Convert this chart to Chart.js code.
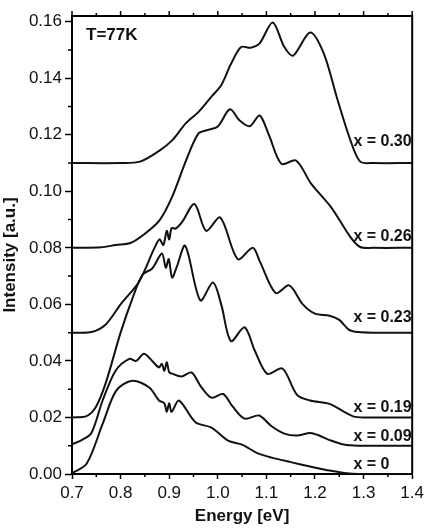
<!DOCTYPE html>
<html>
<head>
<meta charset="utf-8">
<script src="https://cdn.jsdelivr.net/npm/chart.js@4.4.1/dist/chart.umd.min.js"></script>
<style>
  html, body { margin: 0; padding: 0; background: #fff; }
</style>
</head>
<body>
<canvas id="pl" width="428" height="528"></canvas>
<script>
// photoluminescence spectra, T = 77K
const seriesNames = ["x = 0.30", "x = 0.26", "x = 0.23", "x = 0.19", "x = 0.09", "x = 0"];

const energy30 = [0.70, 0.80, 0.84, 0.88, 0.906, 0.934, 0.96, 0.987, 1.007, 1.027, 1.048, 1.068, 1.086, 1.113, 1.137, 1.155, 1.19, 1.218, 1.245, 1.273, 1.293, 1.32, 1.40];
const inten30  = [0.110, 0.110, 0.1105, 0.1144, 0.118, 0.124, 0.128, 0.1335, 0.1375, 0.145, 0.151, 0.1508, 0.1523, 0.1597, 0.151, 0.148, 0.1562, 0.1488, 0.1332, 0.118, 0.1105, 0.110, 0.110];

const energy26 = [0.70, 0.76, 0.79, 0.82, 0.85, 0.88, 0.906, 0.935, 0.96, 0.98, 1.00, 1.025, 1.045, 1.066, 1.086, 1.105, 1.131, 1.161, 1.192, 1.233, 1.273, 1.293, 1.32, 1.40];
const inten26  = [0.080, 0.0802, 0.081, 0.0817, 0.085, 0.0897, 0.098, 0.111, 0.1204, 0.1217, 0.1229, 0.129, 0.125, 0.123, 0.1268, 0.120, 0.1097, 0.1109, 0.1027, 0.0944, 0.0838, 0.0803, 0.080, 0.080];

const energy23 = [0.70, 0.74, 0.77, 0.80, 0.838, 0.869, 0.88, 0.888, 0.895, 0.90, 0.905, 0.913, 0.926, 0.952, 0.976, 1.005, 1.041, 1.072, 1.086, 1.119, 1.147, 1.175, 1.20, 1.23, 1.25, 1.27, 1.29, 1.32, 1.40];
const inten23  = [0.050, 0.0502, 0.053, 0.060, 0.068, 0.0797, 0.083, 0.081, 0.086, 0.083, 0.087, 0.0868, 0.089, 0.0955, 0.086, 0.0907, 0.076, 0.080, 0.0754, 0.064, 0.0667, 0.060, 0.0567, 0.056, 0.0545, 0.051, 0.0502, 0.050, 0.050];

const energy19 = [0.70, 0.73, 0.75, 0.77, 0.80, 0.825, 0.845, 0.865, 0.885, 0.893, 0.899, 0.906, 0.915, 0.933, 0.964, 0.99, 1.007, 1.027, 1.055, 1.076, 1.102, 1.133, 1.163, 1.19, 1.23, 1.26, 1.28, 1.30, 1.40];
const inten19  = [0.020, 0.0205, 0.024, 0.0325, 0.050, 0.0624, 0.0705, 0.0727, 0.078, 0.073, 0.076, 0.0695, 0.073, 0.0807, 0.0614, 0.0677, 0.060, 0.047, 0.0519, 0.0437, 0.0354, 0.0373, 0.028, 0.026, 0.0248, 0.022, 0.0203, 0.020, 0.020];

const energy09 = [0.70, 0.72, 0.74, 0.763, 0.79, 0.818, 0.832, 0.848, 0.865, 0.879, 0.885, 0.89, 0.895, 0.90, 0.906, 0.925, 0.946, 0.965, 0.987, 1.011, 1.03, 1.055, 1.085, 1.11, 1.137, 1.163, 1.19, 1.206, 1.23, 1.259, 1.29, 1.40];
const inten09  = [0.0105, 0.012, 0.0145, 0.026, 0.0366, 0.0407, 0.040, 0.0425, 0.040, 0.0377, 0.039, 0.0365, 0.0395, 0.036, 0.0355, 0.0345, 0.0359, 0.031, 0.027, 0.0283, 0.024, 0.0196, 0.0207, 0.017, 0.0143, 0.0136, 0.0145, 0.0138, 0.012, 0.0104, 0.010, 0.010];

const energy00 = [0.70, 0.73, 0.763, 0.791, 0.824, 0.859, 0.879, 0.89, 0.895, 0.90, 0.905, 0.92, 0.954, 0.987, 1.021, 1.05, 1.08, 1.111, 1.15, 1.192, 1.23, 1.26, 1.29, 1.40];
const inten00  = [0.0003, 0.0036, 0.0177, 0.0295, 0.033, 0.0306, 0.026, 0.025, 0.022, 0.025, 0.022, 0.026, 0.0183, 0.0164, 0.0118, 0.0104, 0.0075, 0.0058, 0.0042, 0.0026, 0.0012, 0.0004, 0.0, 0.0];

const energyTicks = [0.7, 0.8, 0.9, 1.0, 1.1, 1.2, 1.3, 1.4];
const intensityTicks = [0.00, 0.02, 0.04, 0.06, 0.08, 0.10, 0.12, 0.14, 0.16];

const allEnergy = [energy30, energy26, energy23, energy19, energy09, energy00];
const allInten = [inten30, inten26, inten23, inten19, inten09, inten00];

const datasets = seriesNames.map((name, k) => ({
  label: name,
  data: allEnergy[k].map((e, i) => ({ x: e, y: allInten[k][i] })),
  borderColor: "#111",
  borderWidth: 2,
  pointRadius: 0,
  fill: false,
  tension: 0.3,
}));

// where the curve names sit, in data units
const labelSpots = { energy: 1.279, at: [0.1176, 0.084, 0.0554, 0.0235, 0.0132, 0.0033] };

const FONT = "'Liberation Sans', Arial, sans-serif";

const frameAndLabels = {
  id: "frameAndLabels",
  afterDraw(chart) {
    const { ctx, chartArea: a } = chart;
    const xs = chart.scales.x, ys = chart.scales.y;
    ctx.save();
    ctx.strokeStyle = "#000";
    ctx.lineWidth = 2;
    ctx.beginPath();
    ctx.moveTo(a.left, a.top);
    ctx.lineTo(a.right, a.top);
    ctx.lineTo(a.right, a.bottom);
    ctx.stroke();

    // top ticks + minor ticks
    ctx.lineWidth = 1.5;
    ctx.beginPath();
    for (let e = 0.7; e <= 1.4001; e += 0.05) {
      const px = xs.getPixelForValue(e);
      const major = Math.abs(e * 10 - Math.round(e * 10)) < 0.01;
      ctx.moveTo(px, a.top);
      ctx.lineTo(px, a.top - (major ? 5 : 3));
      if (!major) {
        ctx.moveTo(px, a.bottom);
        ctx.lineTo(px, a.bottom + 3);
      }
    }
    for (let v = 0.01; v < 0.162; v += 0.02) {
      const py = ys.getPixelForValue(v);
      ctx.moveTo(a.left, py);
      ctx.lineTo(a.left - 4, py);
    }
    ctx.stroke();

    ctx.fillStyle = "#111";
    ctx.font = "bold 17px " + FONT;
    ctx.textBaseline = "middle";
    ctx.textAlign = "left";
    ctx.fillText("T=77K", a.left + 14, ys.getPixelForValue(0.155));
    ctx.font = "bold 16px " + FONT;
    seriesNames.forEach((n, k) => {
      ctx.fillText(n, xs.getPixelForValue(labelSpots.energy), ys.getPixelForValue(labelSpots.at[k]));
    });

    // y title, sits a little below the plot centre in the original
    ctx.font = "bold 17px " + FONT;
    ctx.textAlign = "center";
    ctx.translate(10, (a.top + a.bottom) / 2 + 10);
    ctx.rotate(-Math.PI / 2);
    ctx.fillText("Intensity [a.u.]", 0, 0);
    ctx.restore();
  },
};

new Chart(document.getElementById("pl"), {
  type: "line",
  data: { datasets },
  options: {
    responsive: false,
    animation: false,
    layout: { padding: { top: 16, right: 11, left: 0, bottom: 0 } },
    plugins: { legend: { display: false }, tooltip: { enabled: false } },
    scales: {
      x: {
        type: "linear",
        min: 0.7,
        max: 1.4,
        afterBuildTicks: (s) => { s.ticks = energyTicks.map((v) => ({ value: v })); },
        afterFit: (s) => { s.height = 54; },
        ticks: {
          color: "#111",
          padding: 4,
          font: { family: FONT, size: 17 },
          callback: (v) => v.toFixed(1),
        },
        grid: { drawOnChartArea: false, tickLength: 5, tickColor: "#000", tickWidth: 1.5 },
        border: { color: "#000", width: 2 },
        title: {
          display: true,
          text: "Energy [eV]",
          color: "#111",
          padding: { top: 0, bottom: 1 },
          font: { family: FONT, size: 17, weight: "bold" },
        },
      },
      y: {
        type: "linear",
        min: 0,
        max: 0.162,
        afterBuildTicks: (s) => { s.ticks = intensityTicks.map((v) => ({ value: v })); },
        afterFit: (s) => { s.width = 72; },
        ticks: {
          color: "#111",
          padding: 3,
          font: { family: FONT, size: 17 },
          callback: (v) => v.toFixed(2),
        },
        grid: { drawOnChartArea: false, tickLength: 7, tickColor: "#000", tickWidth: 1.5 },
        border: { color: "#000", width: 2 },
        title: { display: false },
      },
    },
  },
  plugins: [frameAndLabels],
});
</script>
</body>
</html>
